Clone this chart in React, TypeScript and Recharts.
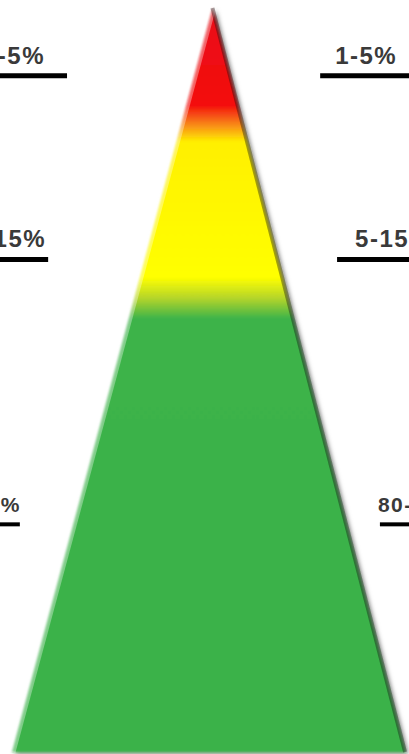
import { ComposedChart, Area, Line, XAxis, YAxis, ReferenceLine } from "recharts";

// pyramid outline: base from 0 to 100, apex height 100
const pyramidX = [0, 51, 100];
const pyramidY = [0, 100, 0];

// tiers, top to bottom
const tierLabels = ["1-5%", "5-15%", "80-90%"];
const tierLevels = [90.9, 66.2, 30.6];

const W = 409;
const H = 754;
const X_DOMAIN: [number, number] = [-3.05, 101];
const Y_DOMAIN: [number, number] = [-0.27, 101.08];

// underline extents (x units) and label placement in px
const leftLineEnd = [14, 9.2, 2];
const rightLineStart = [78.4, 82.7, 93.6];
const leftTextShift = [-22, -2, 1];
const rightTextShift = [15, 18, -2];
const fontSizes = [24, 24, 21];
const lineWidths = [5, 5, 4];

const pyramid = pyramidX.map((x, i) => ({ x, y: pyramidY[i] }));
const leftEdge = pyramid.slice(0, 2);
const rightEdge = pyramid.slice(1);

function tierLabel(i: number, side: "left" | "right") {
  return (props: any) => {
    const vb = props.viewBox || {};
    const x = side === "left" ? vb.x + vb.width + leftTextShift[i] : vb.x + rightTextShift[i];
    return (
      <text
        x={x}
        y={vb.y - 12}
        textAnchor={side === "left" ? "end" : "start"}
        fontFamily="'Liberation Sans', Arial, sans-serif"
        fontWeight="bold"
        fontSize={fontSizes[i]}
        letterSpacing={1.5}
        fill="#3a3a3a"
      >
        {tierLabels[i]}
      </text>
    );
  };
}

export default function App() {
  return (
    <div style={{ position: "absolute", left: 0, top: 0, background: "#fff" }}>
      <ComposedChart width={W} height={H} data={pyramid} margin={{ top: 0, right: 0, bottom: 0, left: 0 }}>
        <defs>
          <linearGradient id="tierFill" x1="0" y1="0" x2="0" y2="1">
            <stop offset="0" stopColor="#e9121a" />
            <stop offset="0.13" stopColor="#f40c0c" />
            <stop offset="0.155" stopColor="#f8801a" />
            <stop offset="0.18" stopColor="#fff000" />
            <stop offset="0.362" stopColor="#ffff00" />
            <stop offset="0.39" stopColor="#b5d52a" />
            <stop offset="0.418" stopColor="#3cb34a" />
            <stop offset="1" stopColor="#3bb24a" />
          </linearGradient>
          <filter id="shade" x="-10%" y="-10%" width="125%" height="125%">
            <feGaussianBlur in="SourceGraphic" stdDeviation="1" result="soft" />
            <feDropShadow in="soft" dx="3" dy="2" stdDeviation="2.2" floodColor="#000" floodOpacity="0.6" />
          </filter>
        </defs>
        <XAxis dataKey="x" type="number" domain={X_DOMAIN} allowDataOverflow hide />
        <YAxis type="number" domain={Y_DOMAIN} allowDataOverflow hide />
        <Area
          type="linear"
          dataKey="y"
          stroke="none"
          fill="url(#tierFill)"
          fillOpacity={1}
          filter="url(#shade)"
          dot={false}
          activeDot={false}
          isAnimationActive={false}
        />
        <Line
          data={leftEdge}
          type="linear"
          dataKey="y"
          stroke="rgba(255,255,255,0.35)"
          strokeWidth={7}
          dot={false}
          activeDot={false}
          isAnimationActive={false}
        />
        <Line
          data={rightEdge}
          type="linear"
          dataKey="y"
          stroke="rgba(0,0,0,0.35)"
          strokeWidth={4}
          dot={false}
          activeDot={false}
          isAnimationActive={false}
        />
        {tierLevels.map((lvl, i) => (
          <ReferenceLine
            key={`l${i}`}
            segment={[
              { x: X_DOMAIN[0], y: lvl },
              { x: leftLineEnd[i], y: lvl },
            ]}
            stroke="#000"
            strokeWidth={lineWidths[i]}
            label={tierLabel(i, "left")}
          />
        ))}
        {tierLevels.map((lvl, i) => (
          <ReferenceLine
            key={`r${i}`}
            segment={[
              { x: rightLineStart[i], y: lvl },
              { x: X_DOMAIN[1], y: lvl },
            ]}
            stroke="#000"
            strokeWidth={lineWidths[i]}
            label={tierLabel(i, "right")}
          />
        ))}
      </ComposedChart>
    </div>
  );
}
